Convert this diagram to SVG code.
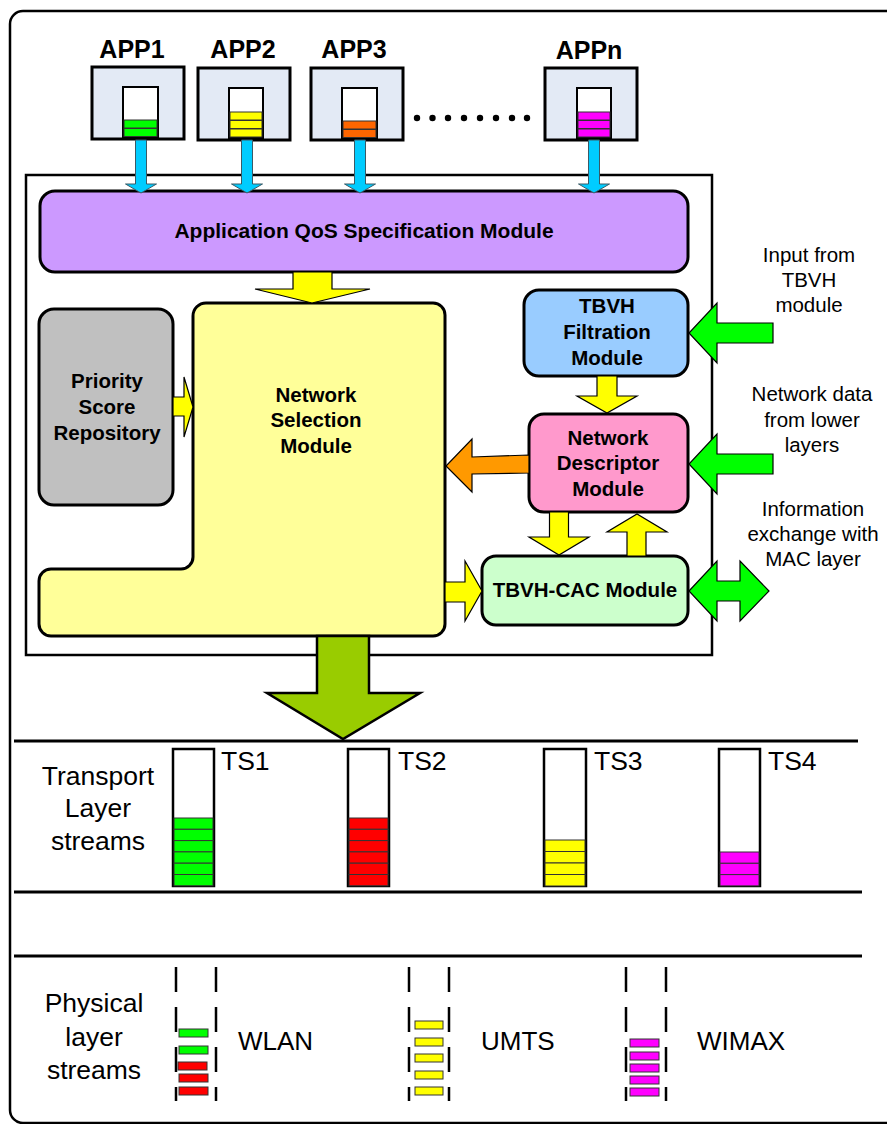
<svg xmlns="http://www.w3.org/2000/svg" width="887" height="1124" viewBox="0 0 887 1124">
<style>
.t{font-family:"Liberation Sans",Arial,sans-serif;fill:#000}
.b{font-weight:bold}
.app{fill:#E3EAF5;stroke:#000;stroke-width:3}
.buf{fill:#fff;stroke:#000;stroke-width:2}
.bar{stroke:#333;stroke-width:1}
.mod{stroke:#000;stroke-width:3}
.arr{stroke:#000;stroke-width:1.2;stroke-linejoin:miter}
.blue{fill:#00CCFF;stroke:#3a5a66;stroke-width:1}
.yel{fill:#FFFF00}
.grn{fill:#00FF00}
.ts{fill:#fff;stroke:#000;stroke-width:2.5}
.sep{stroke:#000;stroke-width:3}
.dash{stroke:#000;stroke-width:2.5;stroke-dasharray:25 15}
</style>
<rect x="10" y="11" width="900" height="1112" rx="13" fill="none" stroke="#000" stroke-width="2.5"/>
<rect id="frame" x="26" y="175" width="686" height="480" fill="none" stroke="#000" stroke-width="2.5"/>

<g id="app1">
<text class="t b" x="132" y="58" font-size="25" text-anchor="middle">APP1</text>
<rect class="app" x="92" y="67" width="92" height="72"/>
<rect class="buf" x="123" y="87" width="35" height="50"/>
<rect class="bar" x="124" y="120" width="33" height="8" fill="#00FF00"/>
<rect class="bar" x="124" y="128.5" width="33" height="8" fill="#00FF00"/>
</g>
<g id="app2">
<text class="t b" x="243" y="58" font-size="25" text-anchor="middle">APP2</text>
<rect class="app" x="198" y="68" width="92" height="72"/>
<rect class="buf" x="229" y="88" width="34" height="50"/>
<rect class="bar" x="230" y="112" width="32" height="8" fill="#FFFF00"/>
<rect class="bar" x="230" y="120.5" width="32" height="8" fill="#FFFF00"/>
<rect class="bar" x="230" y="129" width="32" height="8" fill="#FFFF00"/>
</g>
<g id="app3">
<text class="t b" x="354" y="58" font-size="25" text-anchor="middle">APP3</text>
<rect class="app" x="311" y="68" width="92" height="72"/>
<rect class="buf" x="342" y="88" width="35" height="50"/>
<rect class="bar" x="343" y="121" width="33" height="8" fill="#FF6600"/>
<rect class="bar" x="343" y="129.5" width="33" height="8" fill="#FF6600"/>
</g>
<g id="dots" fill="#000">
<circle cx="417" cy="118" r="3.2"/><circle cx="432.5" cy="118" r="3.2"/><circle cx="448" cy="118" r="3.2"/><circle cx="464" cy="118" r="3.2"/>
<circle cx="480" cy="118" r="3.2"/><circle cx="496" cy="118" r="3.2"/><circle cx="512" cy="118" r="3.2"/><circle cx="527" cy="118" r="3.2"/>
</g>
<g id="appn">
<text class="t b" x="589" y="59" font-size="25" text-anchor="middle">APPn</text>
<rect class="app" x="545" y="68" width="92" height="72"/>
<rect class="buf" x="577" y="88" width="34" height="50"/>
<rect class="bar" x="578" y="112" width="32" height="8" fill="#FF00FF"/>
<rect class="bar" x="578" y="120.5" width="32" height="8" fill="#FF00FF"/>
<rect class="bar" x="578" y="129" width="32" height="8" fill="#FF00FF"/>
</g>

<g id="qos">
<rect class="mod" x="40" y="191" width="648" height="81" rx="15" fill="#CC99FF"/>
<text class="t b" x="364" y="238" font-size="21" text-anchor="middle">Application QoS Specification Module</text>
</g>
<g id="priority">
<rect class="mod" x="39" y="309" width="134" height="196" rx="15" fill="#C0C0C0"/>
<text class="t b" font-size="20.5" text-anchor="middle"><tspan x="107" y="388">Priority</tspan><tspan x="107" y="414">Score</tspan><tspan x="107" y="440">Repository</tspan></text>
</g>
<g id="nsm">
<path class="mod" fill="#FFFF99" d="M206,303 H433 A12,12 0 0 1 445,315 V624 A12,12 0 0 1 433,636 H51 A12,12 0 0 1 39,624 V581 A12,12 0 0 1 51,569 H181 A12,12 0 0 0 193,557 V316 A13,13 0 0 1 206,303 Z"/>
<text class="t b" font-size="20.5" text-anchor="middle"><tspan x="316" y="402">Network</tspan><tspan x="316" y="427">Selection</tspan><tspan x="316" y="453">Module</tspan></text>
</g>
<g id="filtration">
<rect class="mod" x="524" y="290" width="164" height="86" rx="15" fill="#99CCFF"/>
<text class="t b" font-size="20.5" text-anchor="middle"><tspan x="607" y="313">TBVH</tspan><tspan x="607" y="339">Filtration</tspan><tspan x="607" y="365">Module</tspan></text>
</g>
<g id="descriptor">
<rect class="mod" x="529" y="414" width="159" height="98" rx="15" fill="#FF99CC"/>
<text class="t b" font-size="20.5" text-anchor="middle"><tspan x="608" y="445">Network</tspan><tspan x="608" y="470">Descriptor</tspan><tspan x="608" y="496">Module</tspan></text>
</g>
<g id="cac">
<rect class="mod" x="482" y="556" width="206" height="69" rx="14" fill="#CCFFCC"/>
<text class="t b" x="585" y="597" font-size="20.5" text-anchor="middle">TBVH-CAC Module</text>
</g>

<g id="connectors">
<polygon class="blue" points="135.5,140 146.5,140 146.5,184 156.5,184 141,193 125.5,184 135.5,184"/>
<polygon class="blue" points="241.5,140 252.5,140 252.5,184 262.5,184 247,193 231.5,184 241.5,184"/>
<polygon class="blue" points="354.5,140 365.5,140 365.5,184 375.5,184 360,193 344.5,184 354.5,184"/>
<polygon class="blue" points="588.5,140 599.5,140 599.5,184 609.5,184 594,193 578.5,184 588.5,184"/>
<polygon class="arr yel" points="293,272 332,272 332,289 370,289 312,303 255,289 293,289"/>
<polygon class="arr yel" points="173,397 184,397 184,377 193,407 184,437 184,416 173,416"/>
<polygon class="arr" fill="#FF9900" points="529,455 472,457 472,439 446,466 472,492 472,474 529,473"/>
<polygon class="arr yel" points="597,376 617,376 617,396 637,396 607,413 577,396 597,396"/>
<polygon class="arr yel" points="549.5,512 568.5,512 568.5,537 589,537 559,555 529,537 549.5,537"/>
<polygon class="arr yel" points="627,556 646,556 646,532 667,532 637,514 607,532 627,532"/>
<polygon class="arr yel" points="445,582 465,582 465,561 482,591 465,621 465,602 445,602"/>
<polygon class="arr grn" points="773,323 717,323 717,303 689,333 717,363 717,343 773,343"/>
<polygon class="arr grn" points="773,454 717,454 717,434 689,464 717,494 717,474 773,474"/>
<polygon class="arr grn" points="689,591 717,561 717,581 740,581 740,561 769,591 740,621 740,601 717,601 717,621"/>
<polygon fill="#99CC00" stroke="#000" stroke-width="2.5" points="317,636 369,636 369,693 420,693 343,739 267,693 317,693"/>
</g>

<g id="right-labels" class="t" font-size="20.5" text-anchor="middle">
<text><tspan x="809" y="262">Input from</tspan><tspan x="809" y="287">TBVH</tspan><tspan x="809" y="312">module</tspan></text>
<text><tspan x="812" y="401">Network data</tspan><tspan x="812" y="427">from lower</tspan><tspan x="812" y="452">layers</tspan></text>
<text><tspan x="813" y="516">Information</tspan><tspan x="813" y="541">exchange with</tspan><tspan x="813" y="566">MAC layer</tspan></text>
</g>

<g id="separators">
<line class="sep" x1="14" y1="741" x2="858" y2="741"/>
<line class="sep" x1="14" y1="892" x2="862" y2="892"/>
<line class="sep" x1="14" y1="956" x2="862" y2="956"/>
</g>

<g id="transport">
<text class="t" font-size="26.5" text-anchor="middle"><tspan x="98" y="785">Transport</tspan><tspan x="98" y="817">Layer</tspan><tspan x="98" y="850">streams</tspan></text>
<g id="ts1">
<rect class="ts" x="173" y="749" width="41" height="137"/>
<g fill="#00FF00" class="bar"><rect x="174" y="818" width="39" height="11.3"/><rect x="174" y="829.3" width="39" height="11.3"/><rect x="174" y="840.6" width="39" height="11.3"/><rect x="174" y="851.9" width="39" height="11.3"/><rect x="174" y="863.2" width="39" height="11.3"/><rect x="174" y="874.5" width="39" height="11.3"/></g>
<text class="t" x="221" y="770" font-size="26.5">TS1</text>
</g>
<g id="ts2">
<rect class="ts" x="348" y="749" width="41" height="137"/>
<g fill="#FF0000" class="bar"><rect x="349" y="818" width="39" height="11.3"/><rect x="349" y="829.3" width="39" height="11.3"/><rect x="349" y="840.6" width="39" height="11.3"/><rect x="349" y="851.9" width="39" height="11.3"/><rect x="349" y="863.2" width="39" height="11.3"/><rect x="349" y="874.5" width="39" height="11.3"/></g>
<text class="t" x="398" y="770" font-size="26.5">TS2</text>
</g>
<g id="ts3">
<rect class="ts" x="544" y="749" width="42" height="137"/>
<g fill="#FFFF00" class="bar"><rect x="545" y="840" width="40" height="11.5"/><rect x="545" y="851.5" width="40" height="11.5"/><rect x="545" y="863" width="40" height="11.5"/><rect x="545" y="874.5" width="40" height="11.5"/></g>
<text class="t" x="594" y="770" font-size="26.5">TS3</text>
</g>
<g id="ts4">
<rect class="ts" x="719" y="749" width="41" height="137"/>
<g fill="#FF00FF" class="bar"><rect x="720" y="852" width="39" height="11.3"/><rect x="720" y="863.3" width="39" height="11.3"/><rect x="720" y="874.6" width="39" height="11.3"/></g>
<text class="t" x="768" y="770" font-size="26.5">TS4</text>
</g>
</g>

<g id="physical">
<text class="t" font-size="26.5" text-anchor="middle"><tspan x="94" y="1012">Physical</tspan><tspan x="94" y="1046">layer</tspan><tspan x="94" y="1079">streams</tspan></text>
<g id="wlan">
<line class="dash" x1="176" y1="967" x2="176" y2="1101"/>
<line class="dash" x1="216" y1="967" x2="216" y2="1101"/>
<g class="bar"><rect x="179" y="1029" width="29" height="8" fill="#00FF00"/><rect x="179" y="1046" width="29" height="8" fill="#00FF00"/><rect x="178" y="1062" width="29" height="8" fill="#FF0000"/><rect x="179" y="1074" width="29" height="8" fill="#FF0000"/><rect x="179" y="1087" width="29" height="8" fill="#FF0000"/></g>
<text class="t" x="238" y="1050" font-size="26">WLAN</text>
</g>
<g id="umts">
<line class="dash" x1="409" y1="967" x2="409" y2="1101"/>
<line class="dash" x1="449" y1="967" x2="449" y2="1101"/>
<g class="bar" fill="#FFFF00"><rect x="415" y="1021" width="28" height="8"/><rect x="415" y="1038" width="28" height="8"/><rect x="415" y="1054" width="28" height="8"/><rect x="415" y="1071" width="28" height="8"/><rect x="415" y="1087" width="28" height="8"/></g>
<text class="t" x="481" y="1050" font-size="26">UMTS</text>
</g>
<g id="wimax">
<line class="dash" x1="626" y1="967" x2="626" y2="1101"/>
<line class="dash" x1="666" y1="967" x2="666" y2="1101"/>
<g class="bar" fill="#FF00FF"><rect x="630" y="1039" width="29" height="8"/><rect x="630" y="1052" width="29" height="8"/><rect x="630" y="1064" width="29" height="8"/><rect x="630" y="1076" width="29" height="8"/><rect x="630" y="1088" width="29" height="8"/></g>
<text class="t" x="697" y="1050" font-size="26">WIMAX</text>
</g>
</g>
</svg>
